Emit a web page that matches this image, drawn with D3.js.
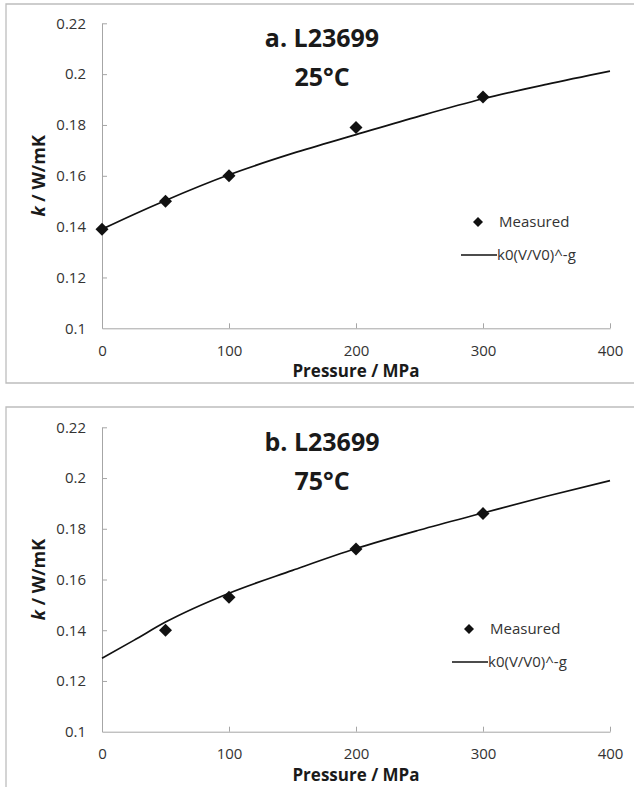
<!DOCTYPE html>
<html>
<head>
<meta charset="utf-8">
<script src="https://cdn.jsdelivr.net/npm/d3@7"></script>
<style>
  body { margin: 0; background: #fff; }
  text { font-family: "Open Sans", sans-serif; }
</style>
</head>
<body>
<div id="chart"></div>
<script>
// axis ticks
const pressureTicks = [0, 100, 200, 300, 400];
const kTicks = [0.1, 0.12, 0.14, 0.16, 0.18, 0.2, 0.22];
const kTickLabels = ['0.1', '0.12', '0.14', '0.16', '0.18', '0.2', '0.22'];

// panel a: 25°C
const titleA = ['a. L23699', '25°C'];
const measuredPA = [0, 50, 100, 200, 300];
const measuredKA = [0.139, 0.150, 0.160, 0.179, 0.191];
const fitPA = [0, 25, 50, 100, 150, 200, 250, 300, 350, 400];
const fitKA = [0.139, 0.1448, 0.1503, 0.1604, 0.1688, 0.1762, 0.1835, 0.1903, 0.196, 0.2012];

// panel b: 75°C
const titleB = ['b. L23699', '75°C'];
const measuredPB = [50, 100, 200, 300];
const measuredKB = [0.140, 0.153, 0.172, 0.186];
const fitPB = [0, 25, 50, 100, 150, 200, 250, 300, 350, 400];
const fitKB = [0.129, 0.136, 0.1432, 0.1546, 0.1636, 0.1722, 0.1795, 0.1862, 0.1928, 0.199];

const legendLabels = ['Measured', 'k0(V/V0)^-g'];

const width = 634, height = 787;
const svg = d3.select('#chart').append('svg').attr('width', width).attr('height', height);

function drawPanel(opts) {
  const g = svg.append('g');

  // outer frame (right side runs off the image)
  g.append('path')
    .attr('d', `M${width + 2},${opts.frameTop} H6 V${opts.frameBottom} H${width + 2}`)
    .attr('fill', 'none')
    .attr('stroke', '#bdbdbd')
    .attr('stroke-width', 1.3);

  const x = d3.scaleLinear().domain([0, 400]).range([102, 610]);
  const y = d3.scaleLinear().domain([0.1, 0.22]).range([opts.plotBottom, opts.plotTop]);

  const yAxis = g.append('g')
    .attr('transform', 'translate(102,0)')
    .call(d3.axisLeft(y).tickValues(kTicks).tickFormat((d, i) => kTickLabels[i])
      .tickSizeInner(-5).tickSizeOuter(0).tickPadding(16));

  const xAxis = g.append('g')
    .attr('transform', `translate(0,${opts.plotBottom})`)
    .call(d3.axisBottom(x).tickValues(pressureTicks)
      .tickSizeInner(-5).tickSizeOuter(0).tickPadding(17));

  [xAxis, yAxis].forEach(a => {
    a.select('.domain').attr('stroke', '#a6a6a6');
    a.selectAll('.tick line').attr('stroke', '#a6a6a6');
    a.selectAll('.tick text').attr('fill', '#333').style('font-size', '15px');
  });
  yAxis.select('.tick line').remove(); // no tick at the origin
  xAxis.select('.tick line').remove();

  // fitted curve
  const line = d3.line().x(d => x(d[0])).y(d => y(d[1])).curve(d3.curveMonotoneX);
  g.append('path')
    .datum(opts.fitP.map((p, i) => [p, opts.fitK[i]]))
    .attr('d', line)
    .attr('fill', 'none')
    .attr('stroke', '#111')
    .attr('stroke-width', 1.7);

  // measured points
  const diamond = d3.symbol().type(d3.symbolSquare).size(84);
  g.selectAll('.pt')
    .data(opts.measP.map((p, i) => [p, opts.measK[i]]))
    .enter().append('path')
    .attr('d', diamond)
    .attr('transform', d => `translate(${x(d[0])},${y(d[1])}) rotate(45)`)
    .attr('fill', '#111');

  // title
  g.selectAll('.ttl')
    .data(opts.title)
    .enter().append('text')
    .attr('x', 322)
    .attr('y', (d, i) => opts.plotTop + 24 + i * 38.5)
    .attr('text-anchor', 'middle')
    .style('font-size', '25px')
    .style('font-weight', 'bold')
    .attr('fill', '#1a1a1a')
    .text(d => d);

  // axis titles
  g.append('text')
    .attr('x', 356)
    .attr('y', opts.plotBottom + 49)
    .attr('text-anchor', 'middle')
    .style('font-size', '17px')
    .style('font-weight', 'bold')
    .attr('fill', '#1a1a1a')
    .text('Pressure / MPa');

  const yt = g.append('text')
    .attr('transform', `translate(45,${(opts.plotTop + opts.plotBottom) / 2}) rotate(-90)`)
    .attr('text-anchor', 'middle')
    .style('font-size', '18px')
    .style('font-weight', 'bold')
    .attr('fill', '#1a1a1a');
  yt.append('tspan').style('font-style', 'italic').text('k');
  yt.append('tspan').text(' / W/mK');

  // legend
  const lg = g.append('g').attr('transform', `translate(${opts.legX},${opts.legY})`);
  lg.append('path')
    .attr('d', d3.symbol().type(d3.symbolSquare).size(50))
    .attr('transform', 'translate(17,0) rotate(45)')
    .attr('fill', '#111');
  lg.append('line')
    .attr('x1', 0).attr('x2', 36).attr('y1', 33).attr('y2', 33)
    .attr('stroke', '#111').attr('stroke-width', 1.7);
  lg.selectAll('.lt')
    .data(legendLabels)
    .enter().append('text')
    .attr('x', (d, i) => i === 0 ? 38 : 36)
    .attr('y', (d, i) => i * 33)
    .attr('dy', '0.35em')
    .style('font-size', '15px')
    .attr('fill', '#333')
    .text(d => d);
}

drawPanel({
  frameTop: 4, frameBottom: 383,
  plotTop: 23.3, plotBottom: 328.3,
  title: titleA,
  measP: measuredPA, measK: measuredKA,
  fitP: fitPA, fitK: fitKA,
  legX: 461, legY: 222
});

drawPanel({
  frameTop: 407, frameBottom: 800,
  plotTop: 427.3, plotBottom: 731.7,
  title: titleB,
  measP: measuredPB, measK: measuredKB,
  fitP: fitPB, fitK: fitKB,
  legX: 452, legY: 629
});
</script>
</body>
</html>
